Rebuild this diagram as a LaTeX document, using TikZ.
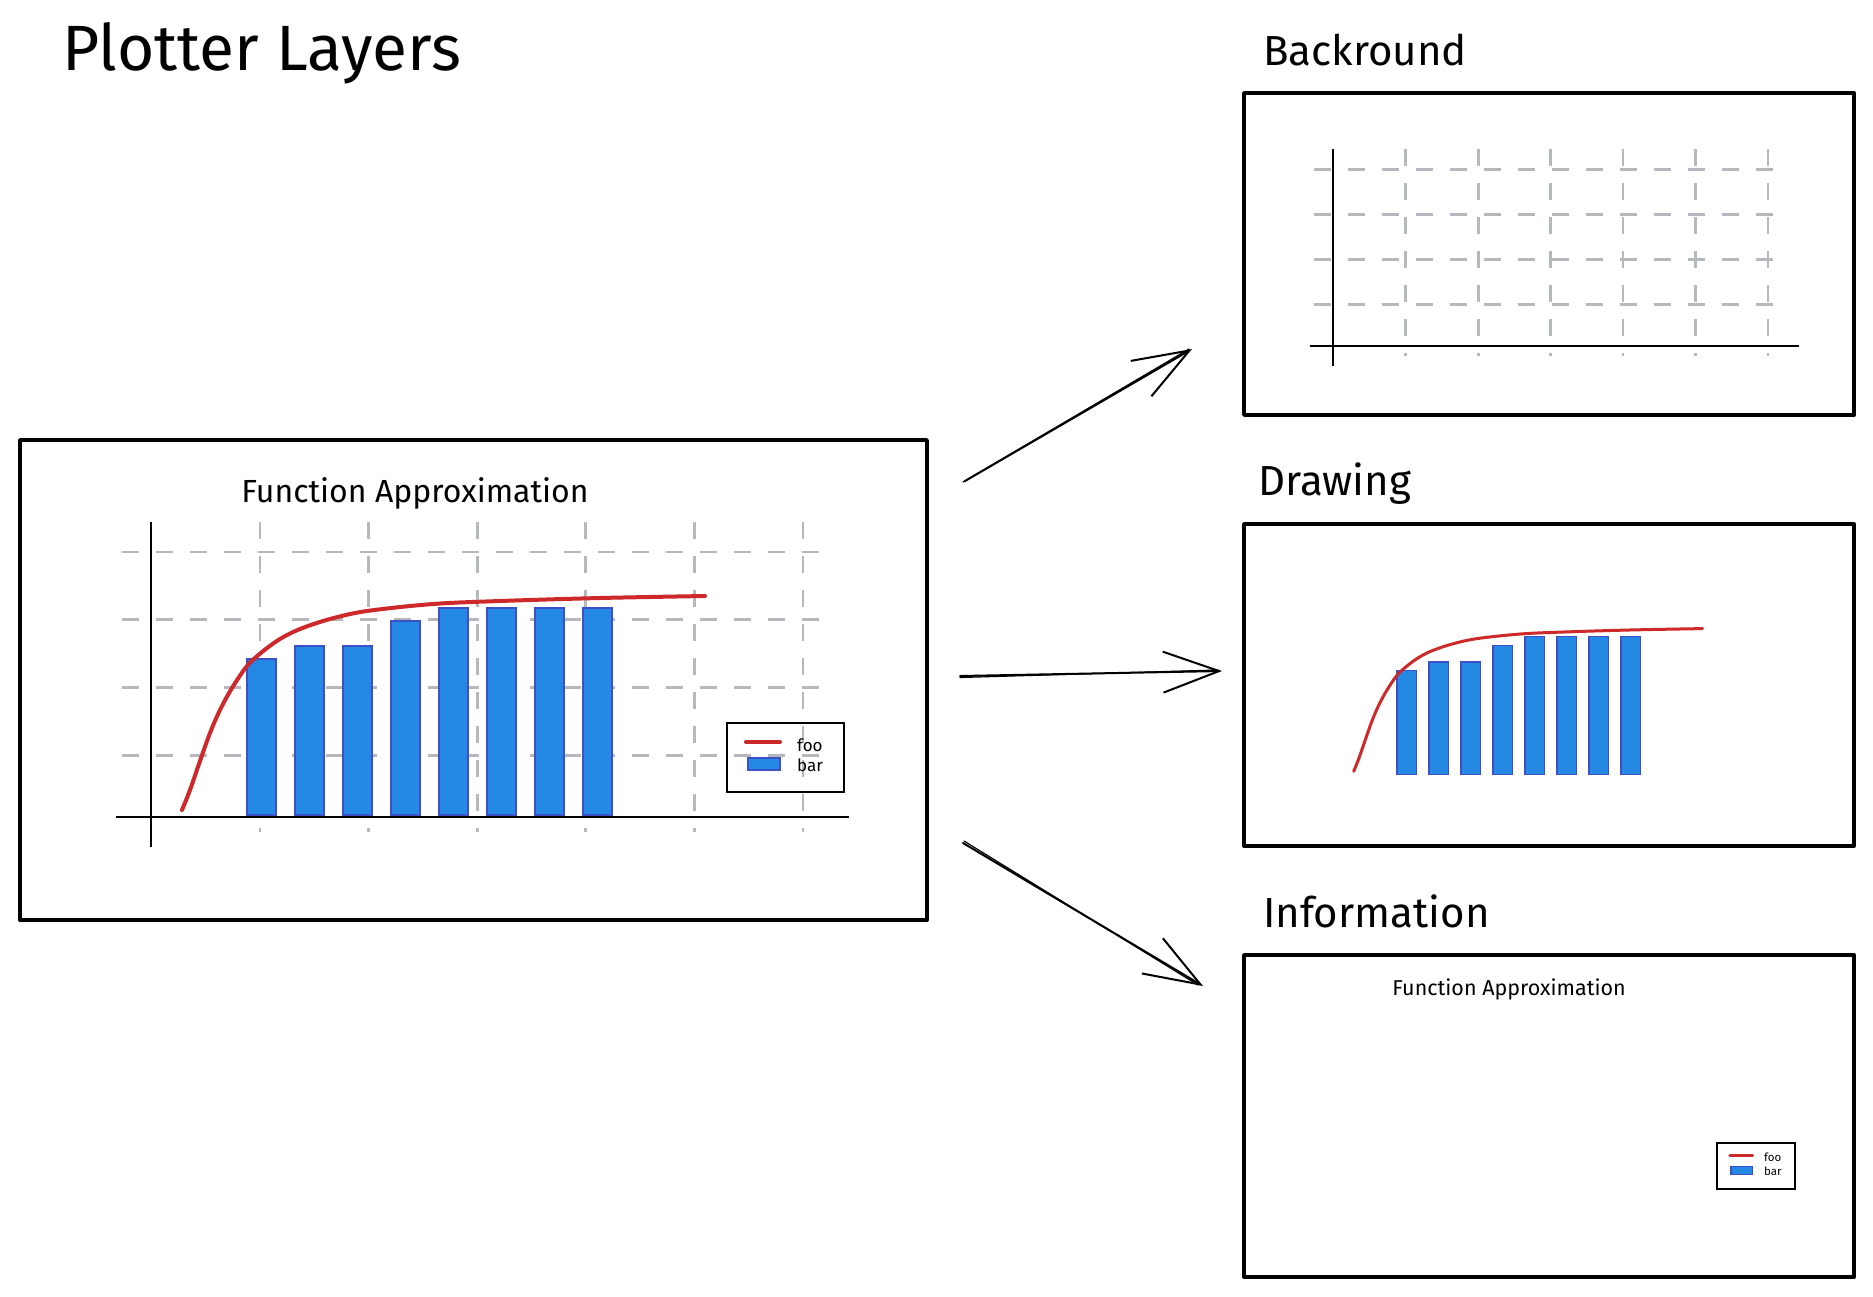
\documentclass[tikz,border=0pt]{standalone}
\usepackage{fontspec}
\setmainfont{Fira Sans}
\usetikzlibrary{arrows.meta}
\definecolor{gridgray}{RGB}{181,184,189}
\definecolor{barblue}{RGB}{35,137,228}
\definecolor{baredge}{RGB}{60,80,200}
\definecolor{curvered}{RGB}{205,40,42}
\tikzset{
  layerbox/.style={draw=black, line width=3.8pt, line join=round, inner sep=0pt, fill=none},
  gridline/.style={draw=gridgray, line width=2.8pt, dash pattern=on 17pt off 17pt},
  axisline/.style={draw=black, line width=1.8pt},
  barrect/.style={fill=barblue, draw=baredge, line width=1.5pt},
  curveline/.style={draw=curvered, line width=4pt, line cap=round, line join=round},
  legbox/.style={draw=black, line width=2.5pt},
  ptitle/.style={font=\fontsize{32}{34}\selectfont, anchor=base, inner sep=0pt},
  legtext/.style={font=\fontsize{17}{18}\selectfont, anchor=base west, inner sep=0pt},
  heading/.style={font=\fontsize{42}{46}\selectfont, anchor=base west, inner sep=0pt},
  sketcharrow/.style={draw=black, line width=2pt, line cap=round,
    -{Straight Barb[length=56pt, width=41pt, line width=2pt]}},
  sketchline/.style={draw=black, line width=1.2pt, line cap=round}
}
\newcommand{\pgrid}{%
  \foreach \gy in {552,619.7,687.4,755.1} \draw[gridline] (122,\gy) -- (819,\gy);
  \foreach \gx in {260,368.6,477.2,585.8,694.4,803} \draw[gridline] (\gx,522) -- (\gx,832);
  \draw[axisline] (151,522) -- (151,847);
  \draw[axisline] (116,817) -- (849,817);
}
\newcommand{\pbars}{%
  \foreach \bx/\bt in {247/659, 295/646, 343/646, 391/621, 439/608, 487/608, 535/608, 583/608}
    \draw[barrect] (\bx,\bt) rectangle (\bx+29,815);
}
\newcommand{\pcurve}{%
  \draw[curveline] plot[smooth, tension=0.55] coordinates {(182,810) (190,790) (200,761) (210,733) (220,710) (232,688) (247,666) (262,652) (280,639) (300,629) (330,619) (367,611) (433,604) (500,601) (600,598) (705,596)};
}
\newcommand{\ptitle}[1]{\node[ptitle] (#1-title) at (415,502) {Function Approximation};}
\newcommand{\plegend}[1]{%
  \draw[legbox] (727,723) rectangle (844,792);
  \draw[curveline] (746,742) -- (780,742);
  \draw[barrect] (748,758) rectangle (780,770);
  \node[legtext] (#1-foo) at (797,751) {foo};
  \node[legtext] (#1-bar) at (797,771) {bar};
}
\begin{document}
\begin{tikzpicture}[x=1pt, y=-1pt]
\useasboundingbox (0,0) rectangle (1873,1296);
\fill[white] (0,0) rectangle (1873,1296);

% headings
\node[heading, font=\fontsize{64}{66}\selectfont] (title) at (62,70) {Plotter Layers};
\node[heading] (hbg) at (1263,65) {Backround};
\node[heading] (hdrw) at (1258,495) {Drawing};
\node[heading] (hinfo) at (1263,927) {Information};

% main plot
\pgrid
\pbars
\pcurve
\ptitle{m}
\plegend{m}
\node[layerbox, minimum width=907pt, minimum height=480pt] (main) at (473.5,680) {};

% background layer
\begin{scope}[shift={(1333,346)}, scale=0.667, shift={(-151,-817)}]
  \pgrid
\end{scope}
\node[layerbox, minimum width=610pt, minimum height=322pt] (bg) at (1549,254) {};

% drawing layer
\begin{scope}[shift={(1333,776)}, scale=0.667, shift={(-151,-817)},
  curveline/.append style={line width=3pt}]
  \pbars
  \pcurve
\end{scope}
\node[layerbox, minimum width=610pt, minimum height=322pt] (drw) at (1549,685) {};

% information layer
\begin{scope}[shift={(1333,1206)}, scale=0.667, shift={(-151,-817)},
  ptitle/.append style={font=\fontsize{21.5}{23}\selectfont},
  legtext/.append style={font=\fontsize{11.5}{12}\selectfont},
  legbox/.append style={line width=2pt},
  curveline/.append style={line width=3pt}]
  \ptitle{i}
  \plegend{i}
\end{scope}
\node[layerbox, minimum width=610pt, minimum height=322pt] (info) at (1549,1116) {};

% arrows
\coordinate (a1s) at (965,481);
\coordinate (a1e) at (1192,349);
\coordinate (a2s) at (960,676);
\coordinate (a2e) at (1222,671);
\coordinate (a3s) at (963,843);
\coordinate (a3e) at (1203,986);
\draw[sketcharrow] (a1s) -- (a1e);
\draw[sketchline] ([xshift=-2pt,yshift=-1pt]a1s) -- ([xshift=-3pt]a1e);
\draw[sketcharrow] (a2s) -- (a2e);
\draw[sketchline] ([yshift=-1.5pt]a2s) -- ([xshift=-4pt,yshift=1pt]a2e);
\draw[sketcharrow] (a3s) -- (a3e);
\draw[sketchline] ([xshift=1pt,yshift=2pt]a3s) -- ([xshift=-5pt,yshift=1pt]a3e);
\end{tikzpicture}
\end{document}
